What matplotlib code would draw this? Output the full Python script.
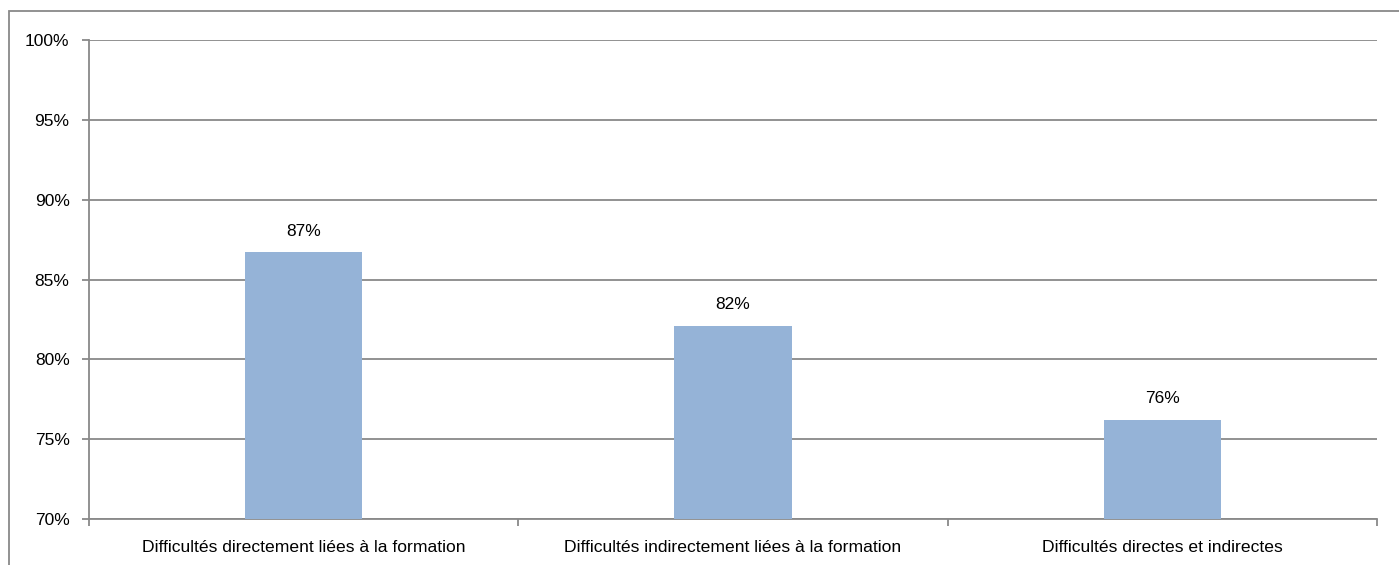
import matplotlib.pyplot as plt
from matplotlib.patches import Rectangle
import numpy as np

plt.rcParams['font.family'] = ['Liberation Sans', 'DejaVu Sans']

categories = ["Difficultés directement liées à la formation",
              "Difficultés indirectement liées à la formation",
              "Difficultés directes et indirectes"]
values = [86.7, 82.1, 76.2]
yticks = [70, 75, 80, 85, 90, 95, 100]

fig = plt.figure(figsize=(13.99, 5.65), dpi=100)
ax = fig.add_axes([89/1399, 46/565, (1377-89)/1399, (519-40)/565])

grey = '#898989'

# outer chart frame, running off the right and bottom edges
fig.patches.append(Rectangle((8.5/1399, -0.2), 1.2, (565-11)/565 + 0.2,
                             transform=fig.transFigure, fill=False,
                             edgecolor=grey, lw=1.3))

x = np.arange(len(categories))
ax.bar(x, values, width=0.273, color='#95B3D7', zorder=3)
for xi, v in zip(x, values):
    ax.text(xi, v + 0.85, f"{v:.0f}%", ha='center', va='bottom', fontsize=12.5)

ax.set_xlim(-0.5, len(categories) - 0.5)
ax.set_ylim(70, 100)
ax.set_yticks(yticks)
ax.set_yticklabels([f"{t}%" for t in yticks], fontsize=12.5)
ax.yaxis.grid(True, color=grey, lw=1.3, zorder=0)

# category labels centred, ticks on the boundaries
ax.set_xticks(np.arange(len(categories) + 1) - 0.5)
ax.set_xticklabels([])
ax.set_xticks(x, minor=True)
ax.set_xticklabels(categories, minor=True, fontsize=12.6)
ax.tick_params(axis='x', which='minor', length=0, pad=15)
ax.tick_params(axis='x', which='major', length=5, color=grey, width=1.3)
ax.tick_params(axis='y', length=5, color=grey, width=1.3, pad=9)

for s in ['top', 'right']:
    ax.spines[s].set_visible(False)
for s in ['left', 'bottom']:
    ax.spines[s].set_color(grey)
    ax.spines[s].set_linewidth(1.3)

fig.savefig('out.png', dpi=100)
